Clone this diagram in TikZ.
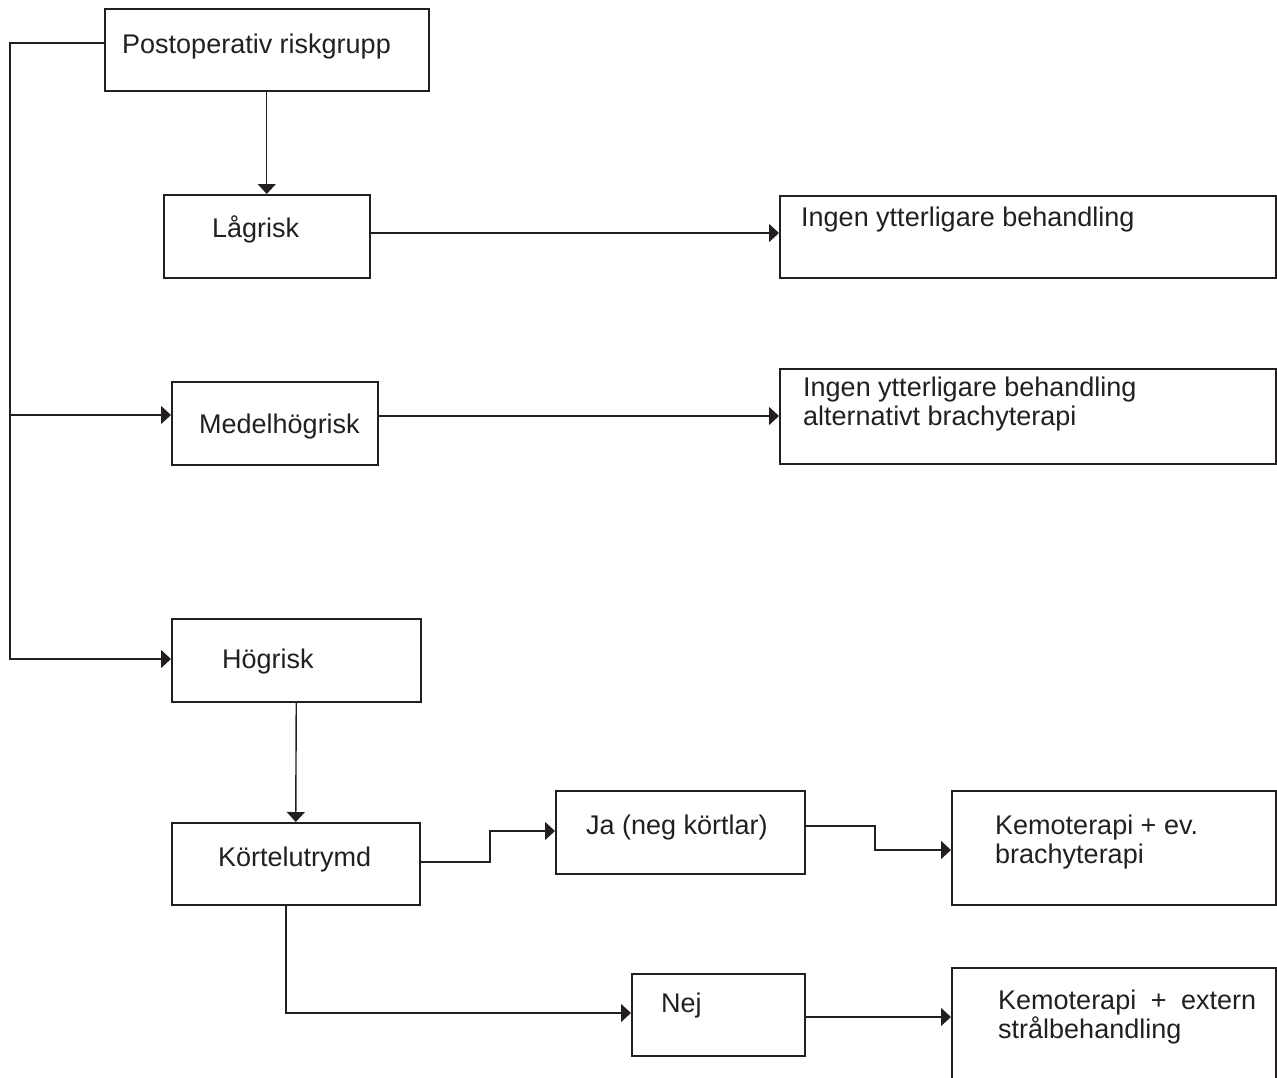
\documentclass[tikz,border=0pt]{standalone}
\usepackage{fontspec}
\setmainfont{Liberation Sans}
\usetikzlibrary{positioning, arrows.meta, calc}
\definecolor{inkgray}{HTML}{231F20}

\begin{document}
\begin{tikzpicture}[x=1pt, y=-1pt,
  box/.style={draw=inkgray, line width=1.5pt, inner sep=0pt, anchor=north west},
  lbl/.style={anchor=base west, inner sep=0pt, text=inkgray, font=\fontsize{27}{29}\selectfont},
  lbltwo/.style={lbl, anchor=north west, align=left},
  link/.style={draw=inkgray, line width=1.4pt},
  arr/.style={link, -{Triangle[length=10pt, width=18pt]}}]
  \useasboundingbox (0,0) rectangle (1277,1077);

  \node[box, minimum width=324pt, minimum height=82pt] (post) at (104,8) {};
  \node[box, minimum width=206pt, minimum height=83pt] (lag) at (163,194) {};
  \node[box, minimum width=496pt, minimum height=82pt] (ing1) at (779,195) {};
  \node[box, minimum width=206pt, minimum height=83pt] (med) at (171,381) {};
  \node[box, minimum width=496pt, minimum height=95pt] (ing2) at (779,368) {};
  \node[box, minimum width=249pt, minimum height=83pt] (hog) at (171,618) {};
  \node[box, minimum width=248pt, minimum height=82pt] (kort) at (171,822) {};
  \node[box, minimum width=249pt, minimum height=83pt] (ja) at (555,790) {};
  \node[box, minimum width=324pt, minimum height=114pt] (kemo1) at (951,790) {};
  \node[box, minimum width=173pt, minimum height=82pt] (nej) at (631,973) {};
  \node[box, minimum width=324pt, minimum height=120pt] (kemo2) at (951,967) {};

  \node[lbl] (post-t) at ($(post.north west)+(18,45)$) {Postoperativ riskgrupp};
  \node[lbl] (lag-t) at ($(lag.north west)+(49,43)$) {Lågrisk};
  \node[lbl] (ing1-t) at ($(ing1.north west)+(22,31)$) {Ingen ytterligare behandling};
  \node[lbl] (med-t) at ($(med.north west)+(28,52)$) {Medelhögrisk};
  \node[lbltwo] (ing2-t) at ($(ing2.north west)+(24,9)$) {Ingen ytterligare behandling\\alternativt brachyterapi};
  \node[lbl] (hog-t) at ($(hog.north west)+(51,50)$) {Högrisk};
  \node[lbl] (kort-t) at ($(kort.north west)+(47,44)$) {Körtelutrymd};
  \node[lbl] (ja-t) at ($(ja.north west)+(31,44)$) {Ja (neg körtlar)};
  \node[lbltwo] (kemo1-t) at ($(kemo1.north west)+(44,25)$) {Kemoterapi + ev.\\brachyterapi};
  \node[lbl] (nej-t) at ($(nej.north west)+(30,39)$) {Nej};
  \node[lbltwo, text width=258pt] (kemo2-t) at ($(kemo2.north west)+(47,23)$) {Kemoterapi\hfill+\hfill extern\\strålbehandling};

  \coordinate (spine) at (10,43);
  \coordinate (jog1) at (490,862);
  \coordinate (jog2) at (875,826);

  \draw[arr] (post.west |- spine) -- (spine) |- (hog.west |- 0,659);
  \draw[arr] (spine |- 0,415) -- (med.west |- 0,415);
  \draw[arr] (post.south) -- (lag.north);
  \draw[arr] (lag.east |- 0,233) -- (ing1.west |- 0,233);
  \draw[arr] (med.east |- 0,416) -- (ing2.west |- 0,416);
  \draw[arr] (hog.south) -- (kort.north);
  \draw[arr] (kort.east |- jog1) -- (jog1) |- (ja.west |- 0,831);
  \draw[arr] (ja.east |- jog2) -- (jog2) |- (kemo1.west |- 0,850);
  \draw[arr] (kort.south -| 286,0) |- (nej.west |- 0,1013);
  \draw[arr] (nej.east |- 0,1017) -- (kemo2.west |- 0,1017);
\end{tikzpicture}
\end{document}
